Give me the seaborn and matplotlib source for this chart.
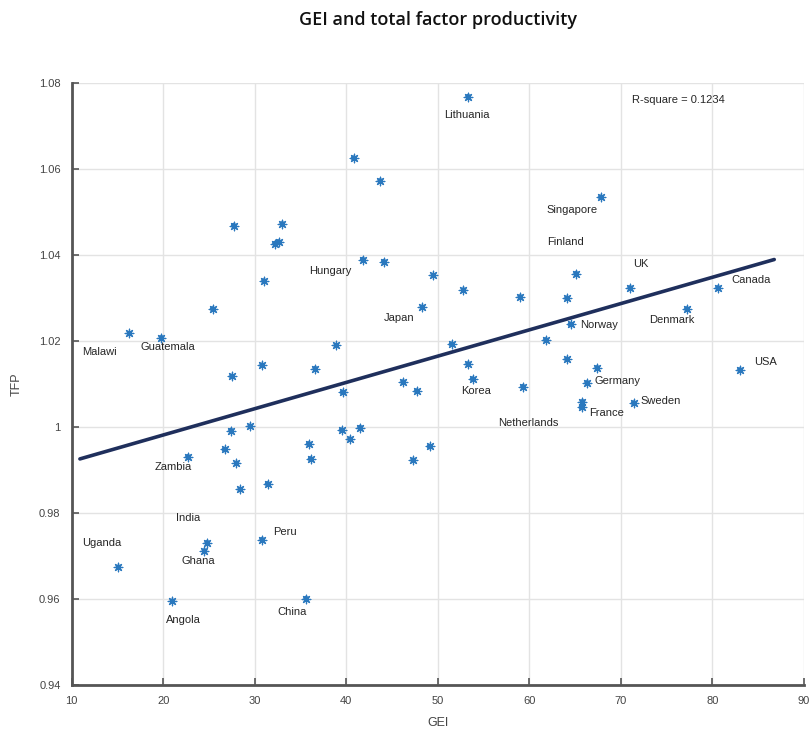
import numpy as np
import pandas as pd
import matplotlib
matplotlib.use("Agg")
import matplotlib.pyplot as plt
from matplotlib.ticker import FuncFormatter
import seaborn as sns

# GEI score and total factor productivity per country ("" = unlabelled point)
country = [
    "Lithuania", "", "", "Singapore", "", "", "", "", "", "Hungary",
    "", "", "", "", "Finland", "", "UK", "Canada", "Denmark", "",
    "Japan", "Malawi", "Guatemala", "Norway", "", "", "", "", "", "",
    "", "", "", "Korea", "Germany", "USA", "", "", "", "Netherlands",
    "", "France", "Sweden", "", "", "", "", "", "", "",
    "", "Zambia", "", "", "", "", "", "India", "Ghana", "Peru",
    "Uganda", "Angola", "China",
]
gei = [
    53.3, 40.8, 43.7, 67.8, 27.7, 33.0, 32.2, 32.6, 31.0, 41.8,
    44.1, 49.5, 52.8, 59.0, 65.1, 64.1, 71.0, 80.6, 77.2, 25.4,
    48.3, 16.3, 19.8, 64.5, 61.8, 51.5, 38.9, 53.3, 64.1, 67.4,
    36.6, 30.8, 27.5, 53.8, 66.3, 83.0, 46.2, 47.7, 39.6, 59.3,
    65.8, 65.7, 71.4, 27.4, 29.5, 41.5, 39.5, 40.4, 35.9, 49.1,
    26.7, 22.7, 36.1, 47.3, 28.0, 31.4, 28.4, 24.8, 24.5, 30.8,
    15.1, 21.0, 35.6,
]
tfp = [
    1.0769, 1.0626, 1.0573, 1.0535, 1.0469, 1.0473, 1.0427, 1.0431, 1.0340, 1.0390,
    1.0385, 1.0353, 1.0319, 1.0303, 1.0357, 1.0300, 1.0324, 1.0324, 1.0275, 1.0275,
    1.0279, 1.0218, 1.0208, 1.0239, 1.0203, 1.0193, 1.0190, 1.0147, 1.0158, 1.0138,
    1.0136, 1.0144, 1.0118, 1.0112, 1.0103, 1.0133, 1.0105, 1.0084, 1.0081, 1.0094,
    1.0059, 1.0046, 1.0056, 0.9992, 1.0002, 0.9999, 0.9993, 0.9972, 0.9961, 0.9955,
    0.9948, 0.9931, 0.9926, 0.9923, 0.9916, 0.9868, 0.9855, 0.9731, 0.9712, 0.9738,
    0.9674, 0.9595, 0.9601,
]

# Fitted trend line end points
fit_gei = [10.9, 86.75]
fit_tfp = [0.9926, 1.0390]
r_square = 0.1234

x_ticks = [10, 20, 30, 40, 50, 60, 70, 80, 90]
y_ticks = [0.94, 0.96, 0.98, 1.00, 1.02, 1.04, 1.06, 1.08]

# Label placement: offset in pixels from the point (x right, y up)
label_offsets = {
    "Lithuania": (-1, -18), "Singapore": (-29, -13), "Finland": (-11, 32),
    "Hungary": (-32, -11), "UK": (11, 24), "Canada": (33, 8),
    "Japan": (-23, -11), "Denmark": (-15, -11), "Malawi": (-30, -19),
    "Guatemala": (6, -9), "Norway": (29, -1), "USA": (26, 8),
    "Germany": (30, 2), "Korea": (3, -12), "Sweden": (27, 2),
    "France": (25, -6), "Netherlands": (5, -36), "Zambia": (-15, -10),
    "India": (-19, 25), "Ghana": (-6, -10), "Uganda": (-17, 24),
    "Peru": (23, 8), "Angola": (11, -19), "China": (-14, -13),
}

df = pd.DataFrame({"country": country, "GEI": gei, "TFP": tfp})

sns.set_style("whitegrid")
plt.rcParams["font.family"] = ["Liberation Sans", "DejaVu Sans"]

fig = plt.figure(figsize=(8.09, 7.29), dpi=100)
ax = fig.add_axes([0.0886, 0.0604, 0.9052, 0.8253])

sns.scatterplot(data=df, x="GEI", y="TFP", ax=ax, marker="o", s=16,
                color="#2a78be", edgecolor="none", zorder=3)
sns.scatterplot(data=df, x="GEI", y="TFP", ax=ax, marker=(8, 2, 0), s=38,
                color="#2a78be", linewidth=0.9, zorder=3)
sns.lineplot(x=fit_gei, y=fit_tfp, ax=ax, color="#1f2f5c", linewidth=2.6,
             zorder=2)

for _, row in df.iterrows():
    if row["country"]:
        dx, dy = label_offsets[row["country"]]
        ax.annotate(row["country"], (row["GEI"], row["TFP"]), xytext=(dx, dy),
                    textcoords="offset pixels", ha="center", va="center",
                    fontsize=8, color="#262626", zorder=4)

ax.text(0.765, 0.972, f"R-square = {r_square}", transform=ax.transAxes,
        fontsize=8, color="#262626", ha="left", va="center")

ax.set_xlim(10, 90)
ax.set_ylim(0.94, 1.08)
ax.set_xticks(x_ticks)
ax.set_yticks(y_ticks)
ax.yaxis.set_major_formatter(FuncFormatter(lambda v, _: f"{v:g}"))
ax.grid(True, color="#e3e3e3", linewidth=1.0)
ax.tick_params(axis="both", direction="in", length=5, width=1.2,
               colors="#555555", labelsize=8, labelcolor="#444444", pad=8)
ax.tick_params(axis="y", left=True)
ax.tick_params(axis="x", bottom=True)
for side in ("top", "right"):
    ax.spines[side].set_visible(False)
for side in ("left", "bottom"):
    ax.spines[side].set_color("#555555")
    ax.spines[side].set_linewidth(2.0)

ax.set_xlabel("GEI", fontsize=9, color="#444444", labelpad=8)
ax.set_ylabel("TFP", fontsize=9, color="#444444", labelpad=12)

fig.text(0.541, 0.972, "GEI and total factor productivity", ha="center",
         va="center", fontsize=13, fontweight="semibold", family="Open Sans",
         color="#111111")

fig.savefig("out.png", dpi=100, facecolor="white")
